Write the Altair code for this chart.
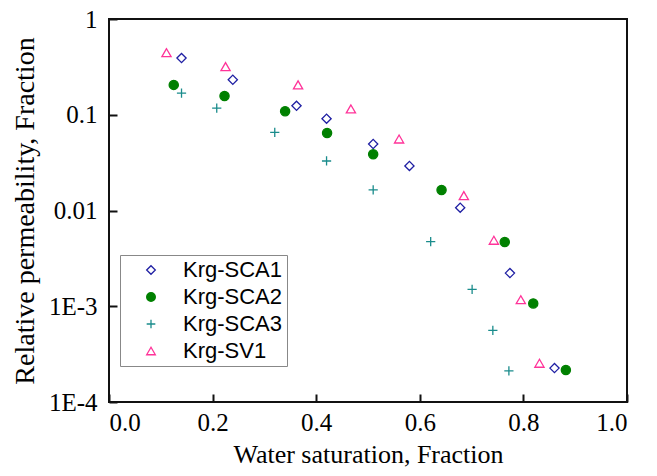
import altair as alt
import pandas as pd

series = ["Krg-SCA1", "Krg-SCA2", "Krg-SCA3", "Krg-SV1"]

sca1_sw = [0.140, 0.239, 0.362, 0.420, 0.510, 0.580, 0.678, 0.774, 0.860]
sca1_kr = [0.391, 0.232, 0.124, 0.091, 0.0495, 0.0292, 0.0107, 0.00222, 0.000226]

sca2_sw = [0.125, 0.223, 0.340, 0.421, 0.510, 0.642, 0.764, 0.819, 0.882]
sca2_kr = [0.205, 0.157, 0.109, 0.0645, 0.0386, 0.0164, 0.00469, 0.00107, 0.000216]

sca3_sw = [0.140, 0.208, 0.320, 0.420, 0.510, 0.621, 0.701, 0.741, 0.772]
sca3_kr = [0.168, 0.117, 0.0655, 0.0329, 0.0164, 0.00472, 0.00150, 0.000561, 0.000211]

sv1_sw = [0.111, 0.225, 0.365, 0.467, 0.560, 0.685, 0.743, 0.795, 0.831]
sv1_kr = [0.445, 0.318, 0.205, 0.115, 0.0558, 0.0143, 0.00489, 0.00117, 0.000254]

x_ticks = [0.0, 0.2, 0.4, 0.6, 0.8, 1.0]
y_ticks = [1e-4, 1e-3, 1e-2, 1e-1, 1]
y_tick_labels = ["1E-4", "1E-3", "0.01", "0.1", "1"]

rows = []
for name, xs, ys in zip(series,
                        [sca1_sw, sca2_sw, sca3_sw, sv1_sw],
                        [sca1_kr, sca2_kr, sca3_kr, sv1_kr]):
    for xv, yv in zip(xs, ys):
        rows.append({"series": name, "sw": xv, "kr": yv})
df = pd.DataFrame(rows)

shapes = ["diamond", "circle", "M-1,0L1,0M0,-1L0,1", "triangle-up"]
strokes = ["#1f1fa3", "#008000", "#1a8c8c", "#ff3399"]
fills = ["transparent", "#008000", "transparent", "transparent"]

label_expr = "[" + ",".join(f"'{l}'" for l in y_tick_labels) + "][round(log(datum.value)/LN10)+4]"

legend = alt.Legend(
    title=None, orient="none", legendX=11, legendY=236,
    padding=4, strokeColor="#888888", fillColor="white",
    labelFont="Liberation Sans", labelFontSize=22, labelColor="black",
    symbolOffset=16, labelOffset=21, rowPadding=5,
    symbolSize=75, symbolStrokeWidth=1.3,
)

chart = alt.Chart(df).mark_point(size=85, strokeWidth=1.3, opacity=1).encode(
    x=alt.X("sw:Q",
            scale=alt.Scale(domain=[0, 1], nice=False, zero=False),
            axis=alt.Axis(values=x_ticks, format=".1f",
                          title="Water saturation, Fraction",
                          titleFontSize=26,
                          offset=-8, labelPadding=8, titlePadding=6)),
    y=alt.Y("kr:Q",
            scale=alt.Scale(type="log", domain=[1e-4, 1], nice=False),
            axis=alt.Axis(values=y_ticks, labelExpr=label_expr,
                          title="Relative permeability, Fraction",
                          titleFontSize=28,
                          offset=-8, labelPadding=12, titlePadding=9)),
    shape=alt.Shape("series:N", scale=alt.Scale(domain=series, range=shapes), legend=legend),
    stroke=alt.Stroke("series:N", scale=alt.Scale(domain=series, range=strokes), legend=legend),
    fill=alt.Fill("series:N", scale=alt.Scale(domain=series, range=fills), legend=legend),
).properties(
    width=518, height=383,
    autosize=alt.AutoSizeParams(type="none"),
    padding={"left": 101, "top": 11, "right": 20, "bottom": 66},
).configure_view(
    stroke="#111111", strokeWidth=2
).configure_axis(
    domain=False, grid=False, ticks=True, tickSize=8, tickWidth=2, tickColor="#111111",
    labelFont="Liberation Serif", labelFontSize=25, labelColor="black",
    titleFont="Liberation Serif", titleFontWeight="normal", titleColor="black",
)

chart.save("out.html", embed_options={"renderer": "svg", "actions": False})
